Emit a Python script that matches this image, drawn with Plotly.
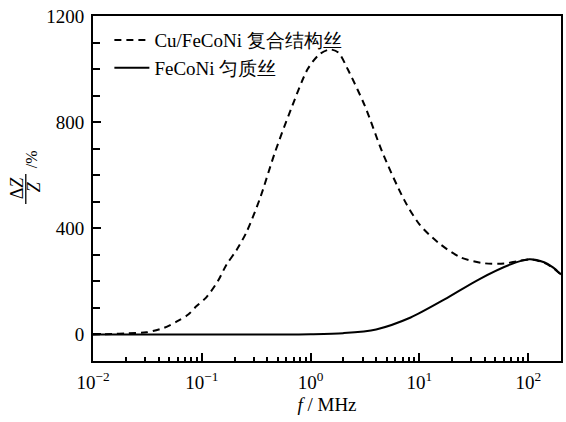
import plotly.graph_objects as go

# Frequency (MHz) and impedance ratio ΔZ/Z (%) for the two wire types
freq_composite = [0.01, 0.015, 0.02, 0.031, 0.045, 0.059, 0.075, 0.089, 0.11, 0.14,
                  0.168, 0.21, 0.257, 0.34, 0.47, 0.66, 0.94, 1.2, 1.5, 1.8,
                  2.19, 3.16, 4.57, 7.2, 10, 14.8, 24, 40, 60, 80,
                  105, 140, 170, 200]
dz_composite = [0, 2, 4, 8, 25, 49, 75, 106, 140, 200,
                262, 320, 385, 509, 686, 849, 1000, 1055, 1074, 1062,
                1000, 860, 686, 509, 415, 347, 290, 268, 267, 276,
                283, 270, 250, 226]

freq_homog = [0.01, 0.1, 0.5, 1.0, 2.0, 4.0, 8.3, 17, 35, 69, 102, 140, 170, 200]
dz_homog = [0, 0, 0, 1, 5, 19, 64, 132, 207, 264, 283, 272, 252, 226]

x_tickvals = [0.01, 0.1, 1, 10, 100]
x_ticktext = ["10<sup>−2</sup>", "10<sup>−1</sup>", "10<sup>0</sup>",
              "10<sup>1</sup>", "10<sup>2</sup>"]
y_tickvals = [0, 400, 800, 1200]

name_composite = "Cu/FeCoNi 复合结构丝"
name_homog = "FeCoNi 匀质丝"

SERIF = "'Liberation Serif', Tinos, 'Times New Roman', Times, 'DejaVu Serif', serif"

W, H = 566, 422
ML, MR, MT, MB = 93, 3, 16, 61
PW, PH = W - ML - MR, H - MT - MB


def px(x):
    return (x - ML) / PW


def py(y):
    return (H - MB - y) / PH


fig = go.Figure()
fig.add_trace(go.Scatter(
    x=freq_composite, y=dz_composite, mode="lines", name=name_composite,
    line=dict(color="black", width=2, dash="7px,5px", shape="spline", smoothing=0.8),
))
fig.add_trace(go.Scatter(
    x=freq_homog, y=dz_homog, mode="lines", name=name_homog,
    line=dict(color="black", width=2, shape="spline", smoothing=0.8),
))

fig.update_xaxes(
    type="log", range=[-2, 2.301],
    tickvals=x_tickvals, ticktext=x_ticktext,
    ticks="inside", ticklen=8, tickwidth=1.5, tickcolor="black",
    minor=dict(ticks="inside", ticklen=4, tickwidth=1.5, tickcolor="black", dtick="D1"),
    showline=True, linewidth=2, linecolor="black", mirror=True,
    showgrid=False, zeroline=False,
    ticklabelstandoff=3,
    tickfont=dict(family=SERIF, size=19, color="black"),
    title=dict(text="<i>f</i> / MHz", font=dict(family=SERIF, size=19, color="black"), standoff=6),
)
fig.update_yaxes(
    range=[-100, 1200],
    tickvals=y_tickvals,
    ticks="inside", ticklen=8, tickwidth=1.5, tickcolor="black",
    minor=dict(ticks="inside", ticklen=7, tickwidth=1.5, tickcolor="black", dtick=100, tick0=0),
    showline=True, linewidth=2, linecolor="black", mirror=True,
    showgrid=False, zeroline=False,
    ticklabelstandoff=3,
    tickfont=dict(family=SERIF, size=19, color="black"),
)

# Y-axis label drawn as a stacked fraction ΔZ / Z followed by "/%"
for txt, cx, cy, size in [("Δ<i>Z</i>", 17, 188, 18), ("<i>Z</i>", 34, 187, 18), ("/%", 31, 159, 16)]:
    fig.add_annotation(x=px(cx), y=py(cy), xref="paper", yref="paper", text=txt,
                       textangle=-90, showarrow=False, xanchor="center", yanchor="middle",
                       font=dict(family=SERIF, size=size, color="black"))
fig.add_shape(type="line", xref="paper", yref="paper",
              x0=px(25.5), x1=px(25.5), y0=py(174), y1=py(204),
              line=dict(color="black", width=1.3))

fig.update_layout(
    width=W, height=H,
    margin=dict(l=ML, r=MR, t=MT, b=MB),
    paper_bgcolor="white", plot_bgcolor="white",
    showlegend=True,
    legend=dict(x=0.035, y=0.985, xanchor="left", yanchor="top",
                bgcolor="rgba(0,0,0,0)", borderwidth=0,
                font=dict(family=SERIF, size=19, color="black"),
                tracegroupgap=0, itemwidth=35),
)

fig.write_html("out.html")
